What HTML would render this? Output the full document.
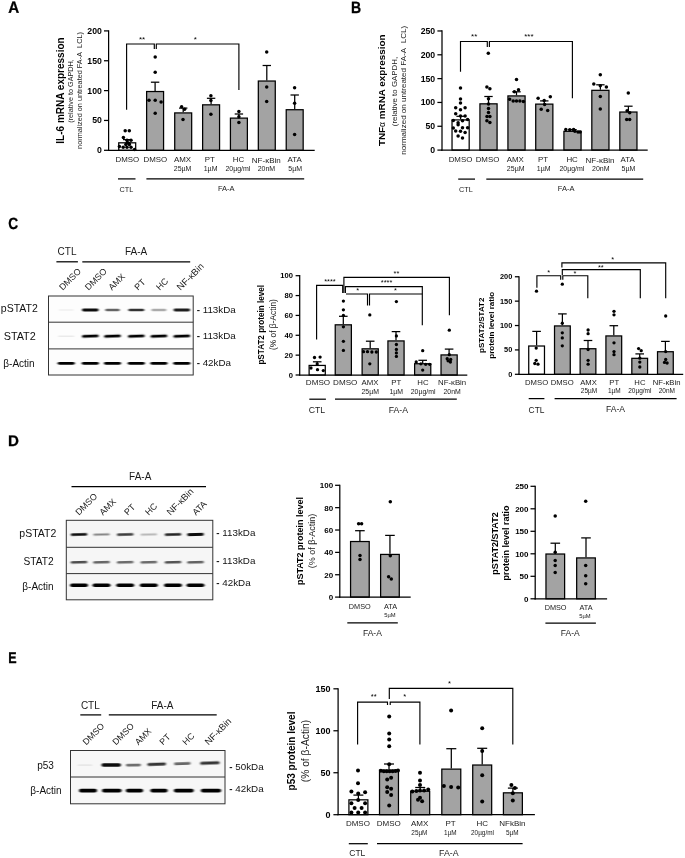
<!DOCTYPE html>
<html><head><meta charset="utf-8"><title>Figure</title>
<style>
html,body{margin:0;padding:0;background:#fff;}
body{width:685px;height:858px;overflow:hidden;font-family:"Liberation Sans",sans-serif;}
svg{display:block;will-change:transform;}
svg text{font-family:"Liberation Sans",sans-serif;}
</style></head><body>
<svg width="685" height="858" viewBox="0 0 685 858">
<defs><filter id="bl" x="-20%" y="-100%" width="140%" height="300%"><feGaussianBlur stdDeviation="0.9 0.65"/></filter></defs>
<rect x="0" y="0" width="685" height="858" fill="#fff"/>
<text transform="translate(8.20 12.80) rotate(0.03) scale(0.93 1)" x="0" y="0" font-size="16.3" font-weight="bold" fill="#000" stroke="#000" stroke-width="0.3">A</text>
<text transform="translate(351.10 12.80) rotate(0.03) scale(0.86 1)" x="0" y="0" font-size="16.3" font-weight="bold" fill="#000" stroke="#000" stroke-width="0.3">B</text>
<text transform="translate(8.20 229.40) rotate(0.03) scale(0.84 1)" x="0" y="0" font-size="16.3" font-weight="bold" fill="#000" stroke="#000" stroke-width="0.3">C</text>
<text transform="translate(8.00 446.00) rotate(0.03) scale(0.98 1)" x="0" y="0" font-size="15.4" font-weight="bold" fill="#000" stroke="#000" stroke-width="0.3">D</text>
<text transform="translate(8.20 663.00) rotate(0.03) scale(0.81 1)" x="0" y="0" font-size="15.5" font-weight="bold" fill="#000" stroke="#000" stroke-width="0.3">E</text>
<line x1="127.20" y1="142.20" x2="127.20" y2="139.60" stroke="#000" stroke-width="1.25" stroke-linecap="butt"/>
<line x1="123.00" y1="139.60" x2="131.40" y2="139.60" stroke="#000" stroke-width="1.25" stroke-linecap="butt"/>
<rect x="118.73" y="142.82" width="16.95" height="7.48" fill="#fff" stroke="#000" stroke-width="1.25" />
<line x1="155.10" y1="90.90" x2="155.10" y2="82.20" stroke="#000" stroke-width="1.25" stroke-linecap="butt"/>
<line x1="150.90" y1="82.20" x2="159.30" y2="82.20" stroke="#000" stroke-width="1.25" stroke-linecap="butt"/>
<rect x="146.62" y="91.53" width="16.95" height="58.78" fill="#a3a3a3" stroke="#000" stroke-width="1.25" />
<line x1="183.20" y1="112.30" x2="183.20" y2="108.10" stroke="#000" stroke-width="1.25" stroke-linecap="butt"/>
<line x1="179.00" y1="108.10" x2="187.40" y2="108.10" stroke="#000" stroke-width="1.25" stroke-linecap="butt"/>
<rect x="174.72" y="112.92" width="16.95" height="37.38" fill="#a3a3a3" stroke="#000" stroke-width="1.25" />
<line x1="211.10" y1="104.20" x2="211.10" y2="98.30" stroke="#000" stroke-width="1.25" stroke-linecap="butt"/>
<line x1="206.90" y1="98.30" x2="215.30" y2="98.30" stroke="#000" stroke-width="1.25" stroke-linecap="butt"/>
<rect x="202.62" y="104.83" width="16.95" height="45.48" fill="#a3a3a3" stroke="#000" stroke-width="1.25" />
<line x1="238.90" y1="117.50" x2="238.90" y2="114.00" stroke="#000" stroke-width="1.25" stroke-linecap="butt"/>
<line x1="234.70" y1="114.00" x2="243.10" y2="114.00" stroke="#000" stroke-width="1.25" stroke-linecap="butt"/>
<rect x="230.43" y="118.12" width="16.95" height="32.18" fill="#a3a3a3" stroke="#000" stroke-width="1.25" />
<line x1="266.80" y1="80.40" x2="266.80" y2="65.50" stroke="#000" stroke-width="1.25" stroke-linecap="butt"/>
<line x1="262.60" y1="65.50" x2="271.00" y2="65.50" stroke="#000" stroke-width="1.25" stroke-linecap="butt"/>
<rect x="258.32" y="81.03" width="16.95" height="69.28" fill="#a3a3a3" stroke="#000" stroke-width="1.25" />
<line x1="294.70" y1="109.10" x2="294.70" y2="95.00" stroke="#000" stroke-width="1.25" stroke-linecap="butt"/>
<line x1="290.50" y1="95.00" x2="298.90" y2="95.00" stroke="#000" stroke-width="1.25" stroke-linecap="butt"/>
<rect x="286.22" y="109.72" width="16.95" height="40.58" fill="#a3a3a3" stroke="#000" stroke-width="1.25" />
<line x1="108.60" y1="30.28" x2="108.60" y2="150.93" stroke="#000" stroke-width="1.25" stroke-linecap="butt"/>
<line x1="107.97" y1="150.30" x2="314.70" y2="150.30" stroke="#000" stroke-width="1.25" stroke-linecap="butt"/>
<line x1="104.00" y1="150.30" x2="108.60" y2="150.30" stroke="#000" stroke-width="1.25" stroke-linecap="butt"/>
<text x="101.80" y="153.30" font-size="8.7" text-anchor="end" font-weight="bold" fill="#000" >0</text>
<line x1="104.00" y1="120.45" x2="108.60" y2="120.45" stroke="#000" stroke-width="1.25" stroke-linecap="butt"/>
<text x="101.80" y="123.45" font-size="8.7" text-anchor="end" font-weight="bold" fill="#000" >50</text>
<line x1="104.00" y1="90.60" x2="108.60" y2="90.60" stroke="#000" stroke-width="1.25" stroke-linecap="butt"/>
<text x="101.80" y="93.60" font-size="8.7" text-anchor="end" font-weight="bold" fill="#000" >100</text>
<line x1="104.00" y1="60.75" x2="108.60" y2="60.75" stroke="#000" stroke-width="1.25" stroke-linecap="butt"/>
<text x="101.80" y="63.75" font-size="8.7" text-anchor="end" font-weight="bold" fill="#000" >150</text>
<line x1="104.00" y1="30.90" x2="108.60" y2="30.90" stroke="#000" stroke-width="1.25" stroke-linecap="butt"/>
<text x="101.80" y="33.90" font-size="8.7" text-anchor="end" font-weight="bold" fill="#000" >200</text>
<circle cx="125.20" cy="130.70" r="1.75" fill="#000"/>
<circle cx="129.30" cy="130.70" r="1.75" fill="#000"/>
<circle cx="123.40" cy="137.50" r="1.75" fill="#000"/>
<circle cx="127.00" cy="140.20" r="1.75" fill="#000"/>
<circle cx="131.00" cy="140.20" r="1.75" fill="#000"/>
<circle cx="127.40" cy="142.60" r="1.75" fill="#000"/>
<circle cx="129.00" cy="143.60" r="1.75" fill="#000"/>
<circle cx="125.80" cy="144.60" r="1.75" fill="#000"/>
<circle cx="129.30" cy="144.60" r="1.75" fill="#000"/>
<circle cx="119.40" cy="146.60" r="1.75" fill="#000"/>
<circle cx="123.20" cy="147.20" r="1.75" fill="#000"/>
<circle cx="127.00" cy="147.20" r="1.75" fill="#000"/>
<circle cx="131.00" cy="147.20" r="1.75" fill="#000"/>
<circle cx="134.60" cy="149.50" r="1.75" fill="#000"/>
<circle cx="155.20" cy="57.10" r="1.75" fill="#000"/>
<circle cx="155.20" cy="72.20" r="1.75" fill="#000"/>
<circle cx="149.00" cy="100.20" r="1.75" fill="#000"/>
<circle cx="155.20" cy="100.20" r="1.75" fill="#000"/>
<circle cx="161.10" cy="102.00" r="1.75" fill="#000"/>
<circle cx="155.20" cy="113.20" r="1.75" fill="#000"/>
<circle cx="181.60" cy="106.70" r="1.75" fill="#000"/>
<circle cx="184.60" cy="109.30" r="1.75" fill="#000"/>
<circle cx="183.00" cy="119.50" r="1.75" fill="#000"/>
<circle cx="210.90" cy="95.80" r="1.75" fill="#000"/>
<circle cx="210.90" cy="100.40" r="1.75" fill="#000"/>
<circle cx="210.90" cy="114.20" r="1.75" fill="#000"/>
<circle cx="238.90" cy="111.40" r="1.75" fill="#000"/>
<circle cx="238.90" cy="116.70" r="1.75" fill="#000"/>
<circle cx="238.90" cy="122.50" r="1.75" fill="#000"/>
<circle cx="266.70" cy="52.00" r="1.75" fill="#000"/>
<circle cx="266.70" cy="87.10" r="1.75" fill="#000"/>
<circle cx="266.70" cy="101.60" r="1.75" fill="#000"/>
<circle cx="294.60" cy="87.80" r="1.75" fill="#000"/>
<circle cx="294.60" cy="103.20" r="1.75" fill="#000"/>
<circle cx="294.60" cy="134.40" r="1.75" fill="#000"/>
<polyline points="126.60,109.80 126.60,44.00 154.30,44.00 154.30,48.90" fill="none" stroke="#000" stroke-width="1.15" stroke-linejoin="miter"/>
<polyline points="156.30,48.90 156.30,44.00 238.90,44.00 238.90,90.00" fill="none" stroke="#000" stroke-width="1.15" stroke-linejoin="miter"/>
<text x="142.00" y="41.80" font-size="8" text-anchor="middle" fill="#000" >**</text>
<text x="195.30" y="41.80" font-size="8" text-anchor="middle" fill="#000" >*</text>
<text x="63.50" y="90.50" font-size="10" text-anchor="middle" font-weight="bold" transform="rotate(-90 63.50 90.50)" fill="#000" >IL-6 mRNA expression</text>
<text x="72.70" y="91.00" font-size="7.25" text-anchor="middle" transform="rotate(-90 72.70 91.00)" fill="#1a1a1a" >(relative to GAPDH,</text>
<text x="82.00" y="90.50" font-size="7.3" text-anchor="middle" transform="rotate(-90 82.00 90.50)" fill="#1a1a1a" >normalized on untreated FA-A&#160; LCL)</text>
<text x="127.30" y="162.00" font-size="7.9" text-anchor="middle" fill="#1a1a1a" >DMSO</text>
<text x="155.30" y="162.00" font-size="7.9" text-anchor="middle" fill="#1a1a1a" >DMSO</text>
<text x="182.50" y="162.00" font-size="7.9" text-anchor="middle" fill="#1a1a1a" >AMX</text>
<text x="209.90" y="162.00" font-size="7.9" text-anchor="middle" fill="#1a1a1a" >PT</text>
<text x="238.40" y="162.00" font-size="7.9" text-anchor="middle" fill="#1a1a1a" >HC</text>
<text x="266.30" y="162.60" font-size="8.0" text-anchor="middle" fill="#1a1a1a" >NF-κBin</text>
<text x="294.60" y="162.00" font-size="7.9" text-anchor="middle" fill="#1a1a1a" >ATA</text>
<text x="182.60" y="171.40" font-size="7.0" text-anchor="middle" fill="#1a1a1a" >25µM</text>
<text x="210.60" y="171.40" font-size="7.0" text-anchor="middle" fill="#1a1a1a" >1µM</text>
<text x="237.90" y="171.40" font-size="7.0" text-anchor="middle" fill="#1a1a1a" >20µg/ml</text>
<text x="266.40" y="171.40" font-size="7.0" text-anchor="middle" fill="#1a1a1a" >20nM</text>
<text x="295.20" y="171.40" font-size="7.0" text-anchor="middle" fill="#1a1a1a" >5µM</text>
<line x1="118.00" y1="178.90" x2="135.50" y2="178.90" stroke="#000" stroke-width="1.25" stroke-linecap="butt"/>
<line x1="146.40" y1="178.90" x2="304.20" y2="178.90" stroke="#000" stroke-width="1.25" stroke-linecap="butt"/>
<text x="126.40" y="191.60" font-size="7.3" text-anchor="middle" fill="#1a1a1a" >CTL</text>
<text x="226.30" y="191.40" font-size="7.5" text-anchor="middle" fill="#1a1a1a" >FA-A</text>
<line x1="460.60" y1="119.30" x2="460.60" y2="116.30" stroke="#000" stroke-width="1.25" stroke-linecap="butt"/>
<line x1="456.40" y1="116.30" x2="464.80" y2="116.30" stroke="#000" stroke-width="1.25" stroke-linecap="butt"/>
<rect x="452.03" y="119.92" width="17.15" height="30.17" fill="#fff" stroke="#000" stroke-width="1.25" />
<line x1="488.50" y1="103.20" x2="488.50" y2="96.50" stroke="#000" stroke-width="1.25" stroke-linecap="butt"/>
<line x1="484.30" y1="96.50" x2="492.70" y2="96.50" stroke="#000" stroke-width="1.25" stroke-linecap="butt"/>
<rect x="479.93" y="103.83" width="17.15" height="46.27" fill="#a3a3a3" stroke="#000" stroke-width="1.25" />
<line x1="516.50" y1="95.30" x2="516.50" y2="91.80" stroke="#000" stroke-width="1.25" stroke-linecap="butt"/>
<line x1="512.30" y1="91.80" x2="520.70" y2="91.80" stroke="#000" stroke-width="1.25" stroke-linecap="butt"/>
<rect x="507.93" y="95.92" width="17.15" height="54.17" fill="#a3a3a3" stroke="#000" stroke-width="1.25" />
<line x1="544.30" y1="103.50" x2="544.30" y2="100.90" stroke="#000" stroke-width="1.25" stroke-linecap="butt"/>
<line x1="540.10" y1="100.90" x2="548.50" y2="100.90" stroke="#000" stroke-width="1.25" stroke-linecap="butt"/>
<rect x="535.72" y="104.12" width="17.15" height="45.97" fill="#a3a3a3" stroke="#000" stroke-width="1.25" />
<line x1="572.50" y1="130.70" x2="572.50" y2="129.60" stroke="#000" stroke-width="1.25" stroke-linecap="butt"/>
<line x1="568.30" y1="129.60" x2="576.70" y2="129.60" stroke="#000" stroke-width="1.25" stroke-linecap="butt"/>
<rect x="563.92" y="131.32" width="17.15" height="18.78" fill="#a3a3a3" stroke="#000" stroke-width="1.25" />
<line x1="600.40" y1="89.70" x2="600.40" y2="84.80" stroke="#000" stroke-width="1.25" stroke-linecap="butt"/>
<line x1="596.20" y1="84.80" x2="604.60" y2="84.80" stroke="#000" stroke-width="1.25" stroke-linecap="butt"/>
<rect x="591.82" y="90.33" width="17.15" height="59.77" fill="#a3a3a3" stroke="#000" stroke-width="1.25" />
<line x1="628.40" y1="111.40" x2="628.40" y2="106.20" stroke="#000" stroke-width="1.25" stroke-linecap="butt"/>
<line x1="624.20" y1="106.20" x2="632.60" y2="106.20" stroke="#000" stroke-width="1.25" stroke-linecap="butt"/>
<rect x="619.82" y="112.03" width="17.15" height="38.07" fill="#a3a3a3" stroke="#000" stroke-width="1.25" />
<line x1="442.00" y1="30.35" x2="442.00" y2="150.72" stroke="#000" stroke-width="1.25" stroke-linecap="butt"/>
<line x1="441.38" y1="150.10" x2="647.70" y2="150.10" stroke="#000" stroke-width="1.25" stroke-linecap="butt"/>
<line x1="437.40" y1="150.10" x2="442.00" y2="150.10" stroke="#000" stroke-width="1.25" stroke-linecap="butt"/>
<text x="435.20" y="153.10" font-size="8.7" text-anchor="end" font-weight="bold" fill="#000" >0</text>
<line x1="437.40" y1="126.27" x2="442.00" y2="126.27" stroke="#000" stroke-width="1.25" stroke-linecap="butt"/>
<text x="435.20" y="129.27" font-size="8.7" text-anchor="end" font-weight="bold" fill="#000" >50</text>
<line x1="437.40" y1="102.45" x2="442.00" y2="102.45" stroke="#000" stroke-width="1.25" stroke-linecap="butt"/>
<text x="435.20" y="105.45" font-size="8.7" text-anchor="end" font-weight="bold" fill="#000" >100</text>
<line x1="437.40" y1="78.62" x2="442.00" y2="78.62" stroke="#000" stroke-width="1.25" stroke-linecap="butt"/>
<text x="435.20" y="81.62" font-size="8.7" text-anchor="end" font-weight="bold" fill="#000" >150</text>
<line x1="437.40" y1="54.80" x2="442.00" y2="54.80" stroke="#000" stroke-width="1.25" stroke-linecap="butt"/>
<text x="435.20" y="57.80" font-size="8.7" text-anchor="end" font-weight="bold" fill="#000" >200</text>
<line x1="437.40" y1="30.97" x2="442.00" y2="30.97" stroke="#000" stroke-width="1.25" stroke-linecap="butt"/>
<text x="435.20" y="33.97" font-size="8.7" text-anchor="end" font-weight="bold" fill="#000" >250</text>
<circle cx="460.50" cy="87.90" r="1.75" fill="#000"/>
<circle cx="460.50" cy="99.10" r="1.75" fill="#000"/>
<circle cx="460.50" cy="102.90" r="1.75" fill="#000"/>
<circle cx="455.70" cy="107.80" r="1.75" fill="#000"/>
<circle cx="465.10" cy="107.80" r="1.75" fill="#000"/>
<circle cx="460.50" cy="109.80" r="1.75" fill="#000"/>
<circle cx="455.70" cy="113.70" r="1.75" fill="#000"/>
<circle cx="460.50" cy="116.10" r="1.75" fill="#000"/>
<circle cx="465.10" cy="116.10" r="1.75" fill="#000"/>
<circle cx="453.30" cy="120.50" r="1.75" fill="#000"/>
<circle cx="462.50" cy="120.70" r="1.75" fill="#000"/>
<circle cx="467.60" cy="119.40" r="1.75" fill="#000"/>
<circle cx="458.10" cy="122.70" r="1.75" fill="#000"/>
<circle cx="458.10" cy="124.80" r="1.75" fill="#000"/>
<circle cx="453.30" cy="128.00" r="1.75" fill="#000"/>
<circle cx="462.50" cy="127.70" r="1.75" fill="#000"/>
<circle cx="467.60" cy="127.70" r="1.75" fill="#000"/>
<circle cx="455.70" cy="131.00" r="1.75" fill="#000"/>
<circle cx="460.50" cy="131.20" r="1.75" fill="#000"/>
<circle cx="465.10" cy="132.40" r="1.75" fill="#000"/>
<circle cx="458.10" cy="136.00" r="1.75" fill="#000"/>
<circle cx="462.50" cy="138.10" r="1.75" fill="#000"/>
<circle cx="488.30" cy="53.30" r="1.75" fill="#000"/>
<circle cx="486.90" cy="87.00" r="1.75" fill="#000"/>
<circle cx="489.90" cy="88.80" r="1.75" fill="#000"/>
<circle cx="488.50" cy="98.80" r="1.75" fill="#000"/>
<circle cx="488.50" cy="104.10" r="1.75" fill="#000"/>
<circle cx="488.50" cy="108.50" r="1.75" fill="#000"/>
<circle cx="488.50" cy="112.40" r="1.75" fill="#000"/>
<circle cx="487.00" cy="116.60" r="1.75" fill="#000"/>
<circle cx="489.90" cy="116.60" r="1.75" fill="#000"/>
<circle cx="486.90" cy="120.70" r="1.75" fill="#000"/>
<circle cx="489.90" cy="122.60" r="1.75" fill="#000"/>
<circle cx="516.50" cy="79.50" r="1.75" fill="#000"/>
<circle cx="518.50" cy="89.70" r="1.75" fill="#000"/>
<circle cx="514.40" cy="91.80" r="1.75" fill="#000"/>
<circle cx="509.70" cy="99.20" r="1.75" fill="#000"/>
<circle cx="513.20" cy="100.90" r="1.75" fill="#000"/>
<circle cx="516.50" cy="100.90" r="1.75" fill="#000"/>
<circle cx="519.90" cy="100.90" r="1.75" fill="#000"/>
<circle cx="523.40" cy="101.40" r="1.75" fill="#000"/>
<circle cx="538.10" cy="98.30" r="1.75" fill="#000"/>
<circle cx="550.30" cy="96.70" r="1.75" fill="#000"/>
<circle cx="544.20" cy="100.60" r="1.75" fill="#000"/>
<circle cx="544.60" cy="104.60" r="1.75" fill="#000"/>
<circle cx="541.20" cy="109.30" r="1.75" fill="#000"/>
<circle cx="547.70" cy="110.50" r="1.75" fill="#000"/>
<circle cx="565.80" cy="129.50" r="1.75" fill="#000"/>
<circle cx="569.80" cy="129.80" r="1.75" fill="#000"/>
<circle cx="573.60" cy="129.50" r="1.75" fill="#000"/>
<circle cx="574.90" cy="131.20" r="1.75" fill="#000"/>
<circle cx="578.00" cy="132.10" r="1.75" fill="#000"/>
<circle cx="580.10" cy="132.10" r="1.75" fill="#000"/>
<circle cx="600.30" cy="74.80" r="1.75" fill="#000"/>
<circle cx="593.80" cy="83.90" r="1.75" fill="#000"/>
<circle cx="606.40" cy="87.10" r="1.75" fill="#000"/>
<circle cx="600.30" cy="85.70" r="1.75" fill="#000"/>
<circle cx="600.30" cy="96.50" r="1.75" fill="#000"/>
<circle cx="600.30" cy="109.00" r="1.75" fill="#000"/>
<circle cx="628.30" cy="93.00" r="1.75" fill="#000"/>
<circle cx="627.10" cy="110.70" r="1.75" fill="#000"/>
<circle cx="629.70" cy="112.80" r="1.75" fill="#000"/>
<circle cx="626.70" cy="119.50" r="1.75" fill="#000"/>
<circle cx="629.70" cy="119.50" r="1.75" fill="#000"/>
<polyline points="460.50,71.70 460.50,41.50 487.30,41.50 487.30,47.10" fill="none" stroke="#000" stroke-width="1.15" stroke-linejoin="miter"/>
<polyline points="489.40,47.10 489.40,41.50 572.40,41.50 572.40,98.30" fill="none" stroke="#000" stroke-width="1.15" stroke-linejoin="miter"/>
<text x="474.20" y="39.20" font-size="8" text-anchor="middle" fill="#000" >**</text>
<text x="528.90" y="39.20" font-size="8" text-anchor="middle" fill="#000" >***</text>
<text x="385.50" y="90.30" font-size="9.9" text-anchor="middle" font-weight="bold" transform="rotate(-90 385.50 90.30)" fill="#000" >TNF<tspan font-size="8.5" font-weight="normal">α</tspan> mRNA expression</text>
<text x="396.90" y="91.50" font-size="7.9" text-anchor="middle" transform="rotate(-90 396.90 91.50)" fill="#1a1a1a" >(relative to GAPDH,</text>
<text x="406.50" y="90.30" font-size="8.05" text-anchor="middle" transform="rotate(-90 406.50 90.30)" fill="#1a1a1a" >normalized on untreated FA-A&#160; LCL)</text>
<text x="460.50" y="162.00" font-size="7.9" text-anchor="middle" fill="#1a1a1a" >DMSO</text>
<text x="487.50" y="162.00" font-size="7.9" text-anchor="middle" fill="#1a1a1a" >DMSO</text>
<text x="515.30" y="162.00" font-size="7.9" text-anchor="middle" fill="#1a1a1a" >AMX</text>
<text x="543.00" y="162.00" font-size="7.9" text-anchor="middle" fill="#1a1a1a" >PT</text>
<text x="572.10" y="162.00" font-size="7.9" text-anchor="middle" fill="#1a1a1a" >HC</text>
<text x="600.00" y="162.60" font-size="8.0" text-anchor="middle" fill="#1a1a1a" >NF-κBin</text>
<text x="627.60" y="162.00" font-size="7.9" text-anchor="middle" fill="#1a1a1a" >ATA</text>
<text x="515.70" y="171.40" font-size="7.0" text-anchor="middle" fill="#1a1a1a" >25µM</text>
<text x="543.70" y="171.40" font-size="7.0" text-anchor="middle" fill="#1a1a1a" >1µM</text>
<text x="571.90" y="171.40" font-size="7.0" text-anchor="middle" fill="#1a1a1a" >20µg/ml</text>
<text x="600.80" y="171.40" font-size="7.0" text-anchor="middle" fill="#1a1a1a" >20nM</text>
<text x="628.50" y="171.40" font-size="7.0" text-anchor="middle" fill="#1a1a1a" >5µM</text>
<line x1="458.20" y1="179.10" x2="475.00" y2="179.10" stroke="#000" stroke-width="1.25" stroke-linecap="butt"/>
<line x1="486.30" y1="179.10" x2="643.20" y2="179.10" stroke="#000" stroke-width="1.25" stroke-linecap="butt"/>
<text x="466.00" y="191.50" font-size="7.3" text-anchor="middle" fill="#1a1a1a" >CTL</text>
<text x="566.10" y="191.40" font-size="7.5" text-anchor="middle" fill="#1a1a1a" >FA-A</text>
<line x1="317.20" y1="364.80" x2="317.20" y2="361.80" stroke="#000" stroke-width="1.25" stroke-linecap="butt"/>
<line x1="312.90" y1="361.80" x2="321.50" y2="361.80" stroke="#000" stroke-width="1.25" stroke-linecap="butt"/>
<rect x="309.12" y="365.43" width="16.15" height="9.57" fill="#fff" stroke="#000" stroke-width="1.25" />
<line x1="343.30" y1="324.20" x2="343.30" y2="316.30" stroke="#000" stroke-width="1.25" stroke-linecap="butt"/>
<line x1="339.00" y1="316.30" x2="347.60" y2="316.30" stroke="#000" stroke-width="1.25" stroke-linecap="butt"/>
<rect x="335.23" y="324.82" width="16.15" height="50.18" fill="#a3a3a3" stroke="#000" stroke-width="1.25" />
<line x1="370.20" y1="348.20" x2="370.20" y2="341.20" stroke="#000" stroke-width="1.25" stroke-linecap="butt"/>
<line x1="365.90" y1="341.20" x2="374.50" y2="341.20" stroke="#000" stroke-width="1.25" stroke-linecap="butt"/>
<rect x="362.12" y="348.82" width="16.15" height="26.18" fill="#a3a3a3" stroke="#000" stroke-width="1.25" />
<line x1="396.00" y1="340.30" x2="396.00" y2="331.60" stroke="#000" stroke-width="1.25" stroke-linecap="butt"/>
<line x1="391.70" y1="331.60" x2="400.30" y2="331.60" stroke="#000" stroke-width="1.25" stroke-linecap="butt"/>
<rect x="387.93" y="340.93" width="16.15" height="34.07" fill="#a3a3a3" stroke="#000" stroke-width="1.25" />
<line x1="422.70" y1="363.10" x2="422.70" y2="360.30" stroke="#000" stroke-width="1.25" stroke-linecap="butt"/>
<line x1="418.40" y1="360.30" x2="427.00" y2="360.30" stroke="#000" stroke-width="1.25" stroke-linecap="butt"/>
<rect x="414.62" y="363.73" width="16.15" height="11.27" fill="#a3a3a3" stroke="#000" stroke-width="1.25" />
<line x1="449.10" y1="354.30" x2="449.10" y2="349.10" stroke="#000" stroke-width="1.25" stroke-linecap="butt"/>
<line x1="444.80" y1="349.10" x2="453.40" y2="349.10" stroke="#000" stroke-width="1.25" stroke-linecap="butt"/>
<rect x="441.03" y="354.93" width="16.15" height="20.07" fill="#a3a3a3" stroke="#000" stroke-width="1.25" />
<line x1="299.70" y1="275.07" x2="299.70" y2="375.62" stroke="#000" stroke-width="1.25" stroke-linecap="butt"/>
<line x1="299.07" y1="375.00" x2="467.30" y2="375.00" stroke="#000" stroke-width="1.25" stroke-linecap="butt"/>
<line x1="295.60" y1="375.00" x2="299.70" y2="375.00" stroke="#000" stroke-width="1.25" stroke-linecap="butt"/>
<text x="293.00" y="377.50" font-size="7.6" text-anchor="end" font-weight="bold" fill="#000" >0</text>
<line x1="295.60" y1="355.14" x2="299.70" y2="355.14" stroke="#000" stroke-width="1.25" stroke-linecap="butt"/>
<text x="293.00" y="357.64" font-size="7.6" text-anchor="end" font-weight="bold" fill="#000" >20</text>
<line x1="295.60" y1="335.28" x2="299.70" y2="335.28" stroke="#000" stroke-width="1.25" stroke-linecap="butt"/>
<text x="293.00" y="337.78" font-size="7.6" text-anchor="end" font-weight="bold" fill="#000" >40</text>
<line x1="295.60" y1="315.42" x2="299.70" y2="315.42" stroke="#000" stroke-width="1.25" stroke-linecap="butt"/>
<text x="293.00" y="317.92" font-size="7.6" text-anchor="end" font-weight="bold" fill="#000" >60</text>
<line x1="295.60" y1="295.56" x2="299.70" y2="295.56" stroke="#000" stroke-width="1.25" stroke-linecap="butt"/>
<text x="293.00" y="298.06" font-size="7.6" text-anchor="end" font-weight="bold" fill="#000" >80</text>
<line x1="295.60" y1="275.70" x2="299.70" y2="275.70" stroke="#000" stroke-width="1.25" stroke-linecap="butt"/>
<text x="293.00" y="278.20" font-size="7.6" text-anchor="end" font-weight="bold" fill="#000" >100</text>
<circle cx="314.50" cy="357.50" r="1.65" fill="#000"/>
<circle cx="320.10" cy="357.10" r="1.65" fill="#000"/>
<circle cx="317.20" cy="363.90" r="1.65" fill="#000"/>
<circle cx="311.00" cy="368.00" r="1.65" fill="#000"/>
<circle cx="317.50" cy="369.70" r="1.65" fill="#000"/>
<circle cx="323.30" cy="370.60" r="1.65" fill="#000"/>
<circle cx="343.40" cy="301.10" r="1.65" fill="#000"/>
<circle cx="343.40" cy="309.80" r="1.65" fill="#000"/>
<circle cx="343.40" cy="315.40" r="1.65" fill="#000"/>
<circle cx="343.40" cy="326.80" r="1.65" fill="#000"/>
<circle cx="343.40" cy="341.30" r="1.65" fill="#000"/>
<circle cx="343.40" cy="350.40" r="1.65" fill="#000"/>
<circle cx="369.80" cy="314.90" r="1.65" fill="#000"/>
<circle cx="363.50" cy="351.70" r="1.65" fill="#000"/>
<circle cx="367.50" cy="351.70" r="1.65" fill="#000"/>
<circle cx="371.90" cy="352.00" r="1.65" fill="#000"/>
<circle cx="376.30" cy="352.00" r="1.65" fill="#000"/>
<circle cx="369.80" cy="363.80" r="1.65" fill="#000"/>
<circle cx="396.40" cy="301.60" r="1.65" fill="#000"/>
<circle cx="396.40" cy="335.90" r="1.65" fill="#000"/>
<circle cx="396.40" cy="344.50" r="1.65" fill="#000"/>
<circle cx="396.40" cy="349.40" r="1.65" fill="#000"/>
<circle cx="396.40" cy="352.90" r="1.65" fill="#000"/>
<circle cx="396.40" cy="356.40" r="1.65" fill="#000"/>
<circle cx="422.70" cy="350.70" r="1.65" fill="#000"/>
<circle cx="416.20" cy="362.00" r="1.65" fill="#000"/>
<circle cx="420.90" cy="363.80" r="1.65" fill="#000"/>
<circle cx="425.70" cy="364.30" r="1.65" fill="#000"/>
<circle cx="429.70" cy="364.30" r="1.65" fill="#000"/>
<circle cx="422.70" cy="370.10" r="1.65" fill="#000"/>
<circle cx="449.30" cy="330.20" r="1.65" fill="#000"/>
<circle cx="449.30" cy="354.70" r="1.65" fill="#000"/>
<circle cx="447.20" cy="358.70" r="1.65" fill="#000"/>
<circle cx="450.70" cy="359.40" r="1.65" fill="#000"/>
<circle cx="448.10" cy="360.80" r="1.65" fill="#000"/>
<circle cx="450.40" cy="362.00" r="1.65" fill="#000"/>
<polyline points="316.60,339.60 316.60,285.40 342.70,285.40 342.70,293.00" fill="none" stroke="#000" stroke-width="1.15" stroke-linejoin="miter"/>
<polyline points="343.90,293.00 343.90,277.40 449.40,277.40 449.40,315.30" fill="none" stroke="#000" stroke-width="1.15" stroke-linejoin="miter"/>
<polyline points="345.40,293.00 345.40,286.60 422.30,286.60 422.30,325.30" fill="none" stroke="#000" stroke-width="1.15" stroke-linejoin="miter"/>
<polyline points="346.00,294.00 367.50,294.00 367.50,305.40" fill="none" stroke="#000" stroke-width="1.15" stroke-linejoin="miter"/>
<polyline points="369.50,305.40 369.50,294.00 422.30,294.00" fill="none" stroke="#000" stroke-width="1.15" stroke-linejoin="miter"/>
<text x="330.00" y="284.20" font-size="7.4" text-anchor="middle" fill="#000" >****</text>
<text x="396.40" y="276.10" font-size="7.4" text-anchor="middle" fill="#000" >**</text>
<text x="386.60" y="285.40" font-size="7.4" text-anchor="middle" fill="#000" >****</text>
<text x="357.60" y="293.40" font-size="7.4" text-anchor="middle" fill="#000" >*</text>
<text x="395.50" y="293.40" font-size="7.4" text-anchor="middle" fill="#000" >*</text>
<text x="264.00" y="324.80" font-size="8.15" text-anchor="middle" font-weight="bold" transform="rotate(-90 264.00 324.80)" fill="#000" >pSTAT2 protein level</text>
<text x="275.60" y="324.60" font-size="8.4" text-anchor="middle" transform="rotate(-90 275.60 324.60)" fill="#1a1a1a" >(% of β-Actin)</text>
<text x="318.00" y="384.70" font-size="8.1" text-anchor="middle" fill="#1a1a1a" >DMSO</text>
<text x="345.20" y="384.70" font-size="8.1" text-anchor="middle" fill="#1a1a1a" >DMSO</text>
<text x="370.00" y="384.70" font-size="7.8" text-anchor="middle" fill="#1a1a1a" >AMX</text>
<text x="396.30" y="384.70" font-size="7.8" text-anchor="middle" fill="#1a1a1a" >PT</text>
<text x="423.00" y="384.70" font-size="7.8" text-anchor="middle" fill="#1a1a1a" >HC</text>
<text x="452.10" y="384.70" font-size="7.8" text-anchor="middle" fill="#1a1a1a" >NF-κBin</text>
<text x="370.20" y="393.90" font-size="6.9" text-anchor="middle" fill="#1a1a1a" >25µM</text>
<text x="396.30" y="393.90" font-size="6.9" text-anchor="middle" fill="#1a1a1a" >1µM</text>
<text x="423.10" y="393.90" font-size="6.9" text-anchor="middle" fill="#1a1a1a" >20µg/ml</text>
<text x="452.10" y="393.90" font-size="6.9" text-anchor="middle" fill="#1a1a1a" >20nM</text>
<line x1="309.30" y1="399.20" x2="325.90" y2="399.20" stroke="#000" stroke-width="1.25" stroke-linecap="butt"/>
<line x1="335.00" y1="399.20" x2="456.80" y2="399.20" stroke="#000" stroke-width="1.25" stroke-linecap="butt"/>
<text x="317.00" y="412.60" font-size="8.7" text-anchor="middle" fill="#1a1a1a" >CTL</text>
<text x="398.30" y="412.60" font-size="8.7" text-anchor="middle" fill="#1a1a1a" >FA-A</text>
<line x1="536.60" y1="345.40" x2="536.60" y2="331.40" stroke="#000" stroke-width="1.25" stroke-linecap="butt"/>
<line x1="532.30" y1="331.40" x2="540.90" y2="331.40" stroke="#000" stroke-width="1.25" stroke-linecap="butt"/>
<rect x="528.73" y="346.02" width="15.75" height="28.28" fill="#fff" stroke="#000" stroke-width="1.25" />
<line x1="562.40" y1="325.30" x2="562.40" y2="313.90" stroke="#000" stroke-width="1.25" stroke-linecap="butt"/>
<line x1="558.10" y1="313.90" x2="566.70" y2="313.90" stroke="#000" stroke-width="1.25" stroke-linecap="butt"/>
<rect x="554.52" y="325.93" width="15.75" height="48.38" fill="#a3a3a3" stroke="#000" stroke-width="1.25" />
<line x1="588.00" y1="348.10" x2="588.00" y2="340.50" stroke="#000" stroke-width="1.25" stroke-linecap="butt"/>
<line x1="583.70" y1="340.50" x2="592.30" y2="340.50" stroke="#000" stroke-width="1.25" stroke-linecap="butt"/>
<rect x="580.12" y="348.73" width="15.75" height="25.57" fill="#a3a3a3" stroke="#000" stroke-width="1.25" />
<line x1="613.80" y1="335.30" x2="613.80" y2="325.70" stroke="#000" stroke-width="1.25" stroke-linecap="butt"/>
<line x1="609.50" y1="325.70" x2="618.10" y2="325.70" stroke="#000" stroke-width="1.25" stroke-linecap="butt"/>
<rect x="605.92" y="335.93" width="15.75" height="38.38" fill="#a3a3a3" stroke="#000" stroke-width="1.25" />
<line x1="639.70" y1="357.70" x2="639.70" y2="353.90" stroke="#000" stroke-width="1.25" stroke-linecap="butt"/>
<line x1="635.40" y1="353.90" x2="644.00" y2="353.90" stroke="#000" stroke-width="1.25" stroke-linecap="butt"/>
<rect x="631.83" y="358.32" width="15.75" height="15.98" fill="#a3a3a3" stroke="#000" stroke-width="1.25" />
<line x1="665.40" y1="351.10" x2="665.40" y2="341.40" stroke="#000" stroke-width="1.25" stroke-linecap="butt"/>
<line x1="661.10" y1="341.40" x2="669.70" y2="341.40" stroke="#000" stroke-width="1.25" stroke-linecap="butt"/>
<rect x="657.52" y="351.73" width="15.75" height="22.57" fill="#a3a3a3" stroke="#000" stroke-width="1.25" />
<line x1="519.00" y1="276.13" x2="519.00" y2="374.93" stroke="#000" stroke-width="1.25" stroke-linecap="butt"/>
<line x1="518.38" y1="374.30" x2="683.20" y2="374.30" stroke="#000" stroke-width="1.25" stroke-linecap="butt"/>
<line x1="514.90" y1="374.30" x2="519.00" y2="374.30" stroke="#000" stroke-width="1.25" stroke-linecap="butt"/>
<text x="512.30" y="376.80" font-size="7.4" text-anchor="end" font-weight="bold" fill="#000" >0</text>
<line x1="514.90" y1="349.92" x2="519.00" y2="349.92" stroke="#000" stroke-width="1.25" stroke-linecap="butt"/>
<text x="512.30" y="352.42" font-size="7.4" text-anchor="end" font-weight="bold" fill="#000" >50</text>
<line x1="514.90" y1="325.53" x2="519.00" y2="325.53" stroke="#000" stroke-width="1.25" stroke-linecap="butt"/>
<text x="512.30" y="328.03" font-size="7.4" text-anchor="end" font-weight="bold" fill="#000" >100</text>
<line x1="514.90" y1="301.14" x2="519.00" y2="301.14" stroke="#000" stroke-width="1.25" stroke-linecap="butt"/>
<text x="512.30" y="303.64" font-size="7.4" text-anchor="end" font-weight="bold" fill="#000" >150</text>
<line x1="514.90" y1="276.76" x2="519.00" y2="276.76" stroke="#000" stroke-width="1.25" stroke-linecap="butt"/>
<text x="512.30" y="279.26" font-size="7.4" text-anchor="end" font-weight="bold" fill="#000" >200</text>
<circle cx="536.50" cy="291.20" r="1.65" fill="#000"/>
<circle cx="536.20" cy="348.10" r="1.65" fill="#000"/>
<circle cx="536.20" cy="360.30" r="1.65" fill="#000"/>
<circle cx="534.80" cy="363.50" r="1.65" fill="#000"/>
<circle cx="538.00" cy="364.20" r="1.65" fill="#000"/>
<circle cx="562.30" cy="284.20" r="1.65" fill="#000"/>
<circle cx="562.30" cy="323.20" r="1.65" fill="#000"/>
<circle cx="562.30" cy="332.80" r="1.65" fill="#000"/>
<circle cx="562.30" cy="337.90" r="1.65" fill="#000"/>
<circle cx="562.30" cy="345.80" r="1.65" fill="#000"/>
<circle cx="588.10" cy="330.00" r="1.65" fill="#000"/>
<circle cx="588.10" cy="333.70" r="1.65" fill="#000"/>
<circle cx="588.10" cy="349.50" r="1.65" fill="#000"/>
<circle cx="588.10" cy="360.30" r="1.65" fill="#000"/>
<circle cx="588.10" cy="364.20" r="1.65" fill="#000"/>
<circle cx="614.00" cy="311.30" r="1.65" fill="#000"/>
<circle cx="614.00" cy="314.80" r="1.65" fill="#000"/>
<circle cx="614.00" cy="342.80" r="1.65" fill="#000"/>
<circle cx="614.00" cy="351.60" r="1.65" fill="#000"/>
<circle cx="614.00" cy="354.70" r="1.65" fill="#000"/>
<circle cx="638.60" cy="348.60" r="1.65" fill="#000"/>
<circle cx="641.20" cy="350.70" r="1.65" fill="#000"/>
<circle cx="639.80" cy="358.20" r="1.65" fill="#000"/>
<circle cx="639.80" cy="362.10" r="1.65" fill="#000"/>
<circle cx="639.80" cy="367.00" r="1.65" fill="#000"/>
<circle cx="665.70" cy="316.00" r="1.65" fill="#000"/>
<circle cx="665.70" cy="351.60" r="1.65" fill="#000"/>
<circle cx="665.70" cy="359.50" r="1.65" fill="#000"/>
<circle cx="664.50" cy="362.40" r="1.65" fill="#000"/>
<circle cx="667.10" cy="363.00" r="1.65" fill="#000"/>
<polyline points="536.90,287.70 536.90,275.70 560.70,275.70 560.70,279.80" fill="none" stroke="#000" stroke-width="1.15" stroke-linejoin="miter"/>
<polyline points="561.90,267.50 561.90,262.80 665.70,262.80 665.70,298.20" fill="none" stroke="#000" stroke-width="1.15" stroke-linejoin="miter"/>
<polyline points="562.30,275.00 562.30,269.60 640.30,269.60 640.30,298.20" fill="none" stroke="#000" stroke-width="1.15" stroke-linejoin="miter"/>
<polyline points="562.80,279.80 562.80,275.70 587.80,275.70 587.80,298.20" fill="none" stroke="#000" stroke-width="1.15" stroke-linejoin="miter"/>
<text x="548.80" y="274.80" font-size="7.4" text-anchor="middle" fill="#000" >*</text>
<text x="612.80" y="262.20" font-size="7.4" text-anchor="middle" fill="#000" >*</text>
<text x="600.80" y="269.60" font-size="7.4" text-anchor="middle" fill="#000" >**</text>
<text x="575.00" y="275.60" font-size="7.4" text-anchor="middle" fill="#000" >*</text>
<text x="484.30" y="325.30" font-size="8.0" text-anchor="middle" font-weight="bold" transform="rotate(-90 484.30 325.30)" fill="#000" >pSTAT2/STAT2</text>
<text x="494.20" y="325.30" font-size="8.0" text-anchor="middle" font-weight="bold" transform="rotate(-90 494.20 325.30)" fill="#000" >protein level ratio</text>
<text x="536.60" y="384.70" font-size="7.7" text-anchor="middle" fill="#1a1a1a" >DMSO</text>
<text x="562.20" y="384.70" font-size="7.7" text-anchor="middle" fill="#1a1a1a" >DMSO</text>
<text x="588.50" y="384.70" font-size="7.7" text-anchor="middle" fill="#1a1a1a" >AMX</text>
<text x="614.20" y="384.70" font-size="7.7" text-anchor="middle" fill="#1a1a1a" >PT</text>
<text x="639.90" y="384.70" font-size="7.7" text-anchor="middle" fill="#1a1a1a" >HC</text>
<text x="666.60" y="384.70" font-size="7.7" text-anchor="middle" fill="#1a1a1a" >NF-κBin</text>
<text x="589.00" y="392.80" font-size="6.5" text-anchor="middle" fill="#1a1a1a" >25µM</text>
<text x="614.30" y="392.80" font-size="6.5" text-anchor="middle" fill="#1a1a1a" >1µM</text>
<text x="639.80" y="392.80" font-size="6.5" text-anchor="middle" fill="#1a1a1a" >20µg/ml</text>
<text x="666.80" y="392.80" font-size="6.5" text-anchor="middle" fill="#1a1a1a" >20nM</text>
<line x1="528.70" y1="398.60" x2="544.40" y2="398.60" stroke="#000" stroke-width="1.25" stroke-linecap="butt"/>
<line x1="554.60" y1="398.60" x2="676.60" y2="398.60" stroke="#000" stroke-width="1.25" stroke-linecap="butt"/>
<text x="536.50" y="412.70" font-size="8.4" text-anchor="middle" fill="#1a1a1a" >CTL</text>
<text x="615.50" y="412.30" font-size="8.6" text-anchor="middle" fill="#1a1a1a" >FA-A</text>
<line x1="359.90" y1="540.90" x2="359.90" y2="530.70" stroke="#000" stroke-width="1.25" stroke-linecap="butt"/>
<line x1="355.10" y1="530.70" x2="364.70" y2="530.70" stroke="#000" stroke-width="1.25" stroke-linecap="butt"/>
<rect x="350.57" y="541.52" width="18.65" height="55.58" fill="#a3a3a3" stroke="#000" stroke-width="1.25" />
<line x1="389.95" y1="553.80" x2="389.95" y2="535.40" stroke="#000" stroke-width="1.25" stroke-linecap="butt"/>
<line x1="385.15" y1="535.40" x2="394.75" y2="535.40" stroke="#000" stroke-width="1.25" stroke-linecap="butt"/>
<rect x="380.62" y="554.42" width="18.65" height="42.68" fill="#a3a3a3" stroke="#000" stroke-width="1.25" />
<line x1="339.80" y1="484.68" x2="339.80" y2="597.73" stroke="#000" stroke-width="1.25" stroke-linecap="butt"/>
<line x1="339.18" y1="597.10" x2="410.70" y2="597.10" stroke="#000" stroke-width="1.25" stroke-linecap="butt"/>
<line x1="335.10" y1="597.10" x2="339.80" y2="597.10" stroke="#000" stroke-width="1.25" stroke-linecap="butt"/>
<text x="333.10" y="600.00" font-size="8" text-anchor="end" font-weight="bold" fill="#000" >0</text>
<line x1="335.10" y1="574.74" x2="339.80" y2="574.74" stroke="#000" stroke-width="1.25" stroke-linecap="butt"/>
<text x="333.10" y="577.64" font-size="8" text-anchor="end" font-weight="bold" fill="#000" >20</text>
<line x1="335.10" y1="552.38" x2="339.80" y2="552.38" stroke="#000" stroke-width="1.25" stroke-linecap="butt"/>
<text x="333.10" y="555.28" font-size="8" text-anchor="end" font-weight="bold" fill="#000" >40</text>
<line x1="335.10" y1="530.02" x2="339.80" y2="530.02" stroke="#000" stroke-width="1.25" stroke-linecap="butt"/>
<text x="333.10" y="532.92" font-size="8" text-anchor="end" font-weight="bold" fill="#000" >60</text>
<line x1="335.10" y1="507.66" x2="339.80" y2="507.66" stroke="#000" stroke-width="1.25" stroke-linecap="butt"/>
<text x="333.10" y="510.56" font-size="8" text-anchor="end" font-weight="bold" fill="#000" >80</text>
<line x1="335.10" y1="485.30" x2="339.80" y2="485.30" stroke="#000" stroke-width="1.25" stroke-linecap="butt"/>
<text x="333.10" y="488.20" font-size="8" text-anchor="end" font-weight="bold" fill="#000" >100</text>
<circle cx="358.60" cy="523.70" r="1.75" fill="#000"/>
<circle cx="361.60" cy="523.70" r="1.75" fill="#000"/>
<circle cx="360.00" cy="555.40" r="1.75" fill="#000"/>
<circle cx="360.00" cy="559.50" r="1.75" fill="#000"/>
<circle cx="390.30" cy="501.70" r="1.75" fill="#000"/>
<circle cx="390.30" cy="555.80" r="1.75" fill="#000"/>
<circle cx="388.60" cy="576.70" r="1.75" fill="#000"/>
<circle cx="391.30" cy="578.90" r="1.75" fill="#000"/>
<text x="302.60" y="541.00" font-size="9" text-anchor="middle" font-weight="bold" transform="rotate(-90 302.60 541.00)" fill="#000" >pSTAT2 protein level</text>
<text x="315.30" y="541.00" font-size="9" text-anchor="middle" transform="rotate(-90 315.30 541.00)" fill="#1a1a1a" >(% of β-Actin)</text>
<text x="359.80" y="609.20" font-size="7.3" text-anchor="middle" fill="#1a1a1a" >DMSO</text>
<text x="390.50" y="609.20" font-size="7.3" text-anchor="middle" fill="#1a1a1a" >ATA</text>
<text x="390.00" y="616.90" font-size="5.8" text-anchor="middle" fill="#1a1a1a" >5µM</text>
<line x1="347.30" y1="622.80" x2="397.80" y2="622.80" stroke="#000" stroke-width="1.25" stroke-linecap="butt"/>
<text x="372.40" y="635.50" font-size="8.5" text-anchor="middle" fill="#1a1a1a" >FA-A</text>
<line x1="555.30" y1="553.40" x2="555.30" y2="543.20" stroke="#000" stroke-width="1.25" stroke-linecap="butt"/>
<line x1="550.50" y1="543.20" x2="560.10" y2="543.20" stroke="#000" stroke-width="1.25" stroke-linecap="butt"/>
<rect x="545.97" y="554.02" width="18.65" height="44.77" fill="#a3a3a3" stroke="#000" stroke-width="1.25" />
<line x1="586.00" y1="557.30" x2="586.00" y2="537.90" stroke="#000" stroke-width="1.25" stroke-linecap="butt"/>
<line x1="581.20" y1="537.90" x2="590.80" y2="537.90" stroke="#000" stroke-width="1.25" stroke-linecap="butt"/>
<rect x="576.67" y="557.92" width="18.65" height="40.88" fill="#a3a3a3" stroke="#000" stroke-width="1.25" />
<line x1="535.20" y1="485.67" x2="535.20" y2="599.42" stroke="#000" stroke-width="1.25" stroke-linecap="butt"/>
<line x1="534.58" y1="598.80" x2="607.10" y2="598.80" stroke="#000" stroke-width="1.25" stroke-linecap="butt"/>
<line x1="530.50" y1="598.80" x2="535.20" y2="598.80" stroke="#000" stroke-width="1.25" stroke-linecap="butt"/>
<text x="528.50" y="601.70" font-size="8" text-anchor="end" font-weight="bold" fill="#000" >0</text>
<line x1="530.50" y1="576.30" x2="535.20" y2="576.30" stroke="#000" stroke-width="1.25" stroke-linecap="butt"/>
<text x="528.50" y="579.20" font-size="8" text-anchor="end" font-weight="bold" fill="#000" >50</text>
<line x1="530.50" y1="553.80" x2="535.20" y2="553.80" stroke="#000" stroke-width="1.25" stroke-linecap="butt"/>
<text x="528.50" y="556.70" font-size="8" text-anchor="end" font-weight="bold" fill="#000" >100</text>
<line x1="530.50" y1="531.30" x2="535.20" y2="531.30" stroke="#000" stroke-width="1.25" stroke-linecap="butt"/>
<text x="528.50" y="534.20" font-size="8" text-anchor="end" font-weight="bold" fill="#000" >150</text>
<line x1="530.50" y1="508.80" x2="535.20" y2="508.80" stroke="#000" stroke-width="1.25" stroke-linecap="butt"/>
<text x="528.50" y="511.70" font-size="8" text-anchor="end" font-weight="bold" fill="#000" >200</text>
<line x1="530.50" y1="486.30" x2="535.20" y2="486.30" stroke="#000" stroke-width="1.25" stroke-linecap="butt"/>
<text x="528.50" y="489.20" font-size="8" text-anchor="end" font-weight="bold" fill="#000" >250</text>
<circle cx="555.20" cy="516.00" r="1.75" fill="#000"/>
<circle cx="555.20" cy="552.20" r="1.75" fill="#000"/>
<circle cx="555.20" cy="560.50" r="1.75" fill="#000"/>
<circle cx="555.20" cy="565.40" r="1.75" fill="#000"/>
<circle cx="555.20" cy="572.60" r="1.75" fill="#000"/>
<circle cx="585.70" cy="501.30" r="1.75" fill="#000"/>
<circle cx="585.70" cy="565.60" r="1.75" fill="#000"/>
<circle cx="585.70" cy="575.70" r="1.75" fill="#000"/>
<circle cx="585.70" cy="583.80" r="1.75" fill="#000"/>
<text x="497.70" y="543.50" font-size="9" text-anchor="middle" font-weight="bold" transform="rotate(-90 497.70 543.50)" fill="#000" >pSTAT2/STAT2</text>
<text x="508.60" y="543.00" font-size="9" text-anchor="middle" font-weight="bold" transform="rotate(-90 508.60 543.00)" fill="#000" >protein level ratio</text>
<text x="555.60" y="610.10" font-size="7.3" text-anchor="middle" fill="#1a1a1a" >DMSO</text>
<text x="586.00" y="610.10" font-size="7.3" text-anchor="middle" fill="#1a1a1a" >ATA</text>
<text x="585.00" y="617.70" font-size="5.8" text-anchor="middle" fill="#1a1a1a" >5µM</text>
<line x1="545.40" y1="623.00" x2="595.90" y2="623.00" stroke="#000" stroke-width="1.25" stroke-linecap="butt"/>
<text x="570.20" y="635.60" font-size="8.5" text-anchor="middle" fill="#1a1a1a" >FA-A</text>
<line x1="358.40" y1="799.20" x2="358.40" y2="795.10" stroke="#000" stroke-width="1.25" stroke-linecap="butt"/>
<line x1="353.40" y1="795.10" x2="363.40" y2="795.10" stroke="#000" stroke-width="1.25" stroke-linecap="butt"/>
<rect x="348.92" y="799.83" width="18.95" height="14.88" fill="#fff" stroke="#000" stroke-width="1.25" />
<line x1="389.00" y1="769.50" x2="389.00" y2="764.00" stroke="#000" stroke-width="1.25" stroke-linecap="butt"/>
<line x1="384.00" y1="764.00" x2="394.00" y2="764.00" stroke="#000" stroke-width="1.25" stroke-linecap="butt"/>
<rect x="379.52" y="770.12" width="18.95" height="44.58" fill="#a3a3a3" stroke="#000" stroke-width="1.25" />
<line x1="420.20" y1="790.60" x2="420.20" y2="787.50" stroke="#000" stroke-width="1.25" stroke-linecap="butt"/>
<line x1="415.20" y1="787.50" x2="425.20" y2="787.50" stroke="#000" stroke-width="1.25" stroke-linecap="butt"/>
<rect x="410.72" y="791.23" width="18.95" height="23.48" fill="#a3a3a3" stroke="#000" stroke-width="1.25" />
<line x1="451.30" y1="768.50" x2="451.30" y2="748.70" stroke="#000" stroke-width="1.25" stroke-linecap="butt"/>
<line x1="446.30" y1="748.70" x2="456.30" y2="748.70" stroke="#000" stroke-width="1.25" stroke-linecap="butt"/>
<rect x="441.82" y="769.12" width="18.95" height="45.58" fill="#a3a3a3" stroke="#000" stroke-width="1.25" />
<line x1="482.20" y1="764.40" x2="482.20" y2="748.30" stroke="#000" stroke-width="1.25" stroke-linecap="butt"/>
<line x1="477.20" y1="748.30" x2="487.20" y2="748.30" stroke="#000" stroke-width="1.25" stroke-linecap="butt"/>
<rect x="472.72" y="765.02" width="18.95" height="49.68" fill="#a3a3a3" stroke="#000" stroke-width="1.25" />
<line x1="512.90" y1="792.20" x2="512.90" y2="788.10" stroke="#000" stroke-width="1.25" stroke-linecap="butt"/>
<line x1="507.90" y1="788.10" x2="517.90" y2="788.10" stroke="#000" stroke-width="1.25" stroke-linecap="butt"/>
<rect x="503.42" y="792.83" width="18.95" height="21.88" fill="#a3a3a3" stroke="#000" stroke-width="1.25" />
<line x1="338.10" y1="688.18" x2="338.10" y2="815.33" stroke="#000" stroke-width="1.25" stroke-linecap="butt"/>
<line x1="337.48" y1="814.70" x2="534.90" y2="814.70" stroke="#000" stroke-width="1.25" stroke-linecap="butt"/>
<line x1="333.40" y1="814.70" x2="338.10" y2="814.70" stroke="#000" stroke-width="1.25" stroke-linecap="butt"/>
<text x="330.60" y="817.90" font-size="9" text-anchor="end" font-weight="bold" fill="#000" >0</text>
<line x1="333.40" y1="772.74" x2="338.10" y2="772.74" stroke="#000" stroke-width="1.25" stroke-linecap="butt"/>
<text x="330.60" y="775.94" font-size="9" text-anchor="end" font-weight="bold" fill="#000" >50</text>
<line x1="333.40" y1="730.77" x2="338.10" y2="730.77" stroke="#000" stroke-width="1.25" stroke-linecap="butt"/>
<text x="330.60" y="733.97" font-size="9" text-anchor="end" font-weight="bold" fill="#000" >100</text>
<line x1="333.40" y1="688.81" x2="338.10" y2="688.81" stroke="#000" stroke-width="1.25" stroke-linecap="butt"/>
<text x="330.60" y="692.01" font-size="9" text-anchor="end" font-weight="bold" fill="#000" >150</text>
<circle cx="358.00" cy="770.50" r="2.0" fill="#000"/>
<circle cx="358.00" cy="783.20" r="2.0" fill="#000"/>
<circle cx="351.40" cy="791.50" r="2.0" fill="#000"/>
<circle cx="365.10" cy="792.30" r="2.0" fill="#000"/>
<circle cx="358.20" cy="793.60" r="2.0" fill="#000"/>
<circle cx="358.20" cy="800.00" r="2.0" fill="#000"/>
<circle cx="351.40" cy="803.20" r="2.0" fill="#000"/>
<circle cx="365.10" cy="803.20" r="2.0" fill="#000"/>
<circle cx="354.60" cy="808.00" r="2.0" fill="#000"/>
<circle cx="361.60" cy="808.00" r="2.0" fill="#000"/>
<circle cx="351.40" cy="812.40" r="2.0" fill="#000"/>
<circle cx="358.20" cy="812.40" r="2.0" fill="#000"/>
<circle cx="365.10" cy="812.40" r="2.0" fill="#000"/>
<circle cx="389.20" cy="716.60" r="2.0" fill="#000"/>
<circle cx="389.20" cy="733.60" r="2.0" fill="#000"/>
<circle cx="389.20" cy="739.50" r="2.0" fill="#000"/>
<circle cx="389.20" cy="746.20" r="2.0" fill="#000"/>
<circle cx="389.20" cy="764.20" r="2.0" fill="#000"/>
<circle cx="380.90" cy="770.80" r="2.0" fill="#000"/>
<circle cx="383.80" cy="771.20" r="2.0" fill="#000"/>
<circle cx="386.70" cy="771.20" r="2.0" fill="#000"/>
<circle cx="389.60" cy="771.20" r="2.0" fill="#000"/>
<circle cx="392.60" cy="771.20" r="2.0" fill="#000"/>
<circle cx="395.50" cy="771.00" r="2.0" fill="#000"/>
<circle cx="398.00" cy="770.60" r="2.0" fill="#000"/>
<circle cx="391.10" cy="777.80" r="2.0" fill="#000"/>
<circle cx="387.20" cy="779.60" r="2.0" fill="#000"/>
<circle cx="387.20" cy="787.30" r="2.0" fill="#000"/>
<circle cx="391.10" cy="788.80" r="2.0" fill="#000"/>
<circle cx="387.20" cy="792.00" r="2.0" fill="#000"/>
<circle cx="391.10" cy="794.90" r="2.0" fill="#000"/>
<circle cx="389.20" cy="805.40" r="2.0" fill="#000"/>
<circle cx="420.00" cy="772.80" r="2.0" fill="#000"/>
<circle cx="420.00" cy="780.40" r="2.0" fill="#000"/>
<circle cx="420.00" cy="784.90" r="2.0" fill="#000"/>
<circle cx="412.30" cy="791.60" r="2.0" fill="#000"/>
<circle cx="416.40" cy="791.00" r="2.0" fill="#000"/>
<circle cx="420.00" cy="790.60" r="2.0" fill="#000"/>
<circle cx="424.10" cy="790.60" r="2.0" fill="#000"/>
<circle cx="428.20" cy="789.60" r="2.0" fill="#000"/>
<circle cx="420.00" cy="797.70" r="2.0" fill="#000"/>
<circle cx="418.00" cy="799.80" r="2.0" fill="#000"/>
<circle cx="422.10" cy="801.20" r="2.0" fill="#000"/>
<circle cx="451.10" cy="710.50" r="2.0" fill="#000"/>
<circle cx="443.90" cy="785.90" r="2.0" fill="#000"/>
<circle cx="451.10" cy="786.90" r="2.0" fill="#000"/>
<circle cx="458.20" cy="787.50" r="2.0" fill="#000"/>
<circle cx="482.20" cy="728.20" r="2.0" fill="#000"/>
<circle cx="482.20" cy="751.10" r="2.0" fill="#000"/>
<circle cx="482.20" cy="775.30" r="2.0" fill="#000"/>
<circle cx="482.20" cy="801.40" r="2.0" fill="#000"/>
<circle cx="511.40" cy="785.10" r="2.0" fill="#000"/>
<circle cx="514.90" cy="788.10" r="2.0" fill="#000"/>
<circle cx="512.80" cy="793.20" r="2.0" fill="#000"/>
<circle cx="512.80" cy="800.40" r="2.0" fill="#000"/>
<polyline points="357.60,744.60 357.60,702.10 387.50,702.10 387.50,705.00" fill="none" stroke="#000" stroke-width="1.15" stroke-linejoin="miter"/>
<polyline points="389.30,699.00 389.30,688.40 512.80,688.40 512.80,744.60" fill="none" stroke="#000" stroke-width="1.15" stroke-linejoin="miter"/>
<polyline points="390.20,705.00 390.20,702.10 419.90,702.10 419.90,744.60" fill="none" stroke="#000" stroke-width="1.15" stroke-linejoin="miter"/>
<text x="373.70" y="699.30" font-size="7.5" text-anchor="middle" fill="#000" >**</text>
<text x="404.60" y="699.30" font-size="7.5" text-anchor="middle" fill="#000" >*</text>
<text x="449.50" y="686.00" font-size="7.5" text-anchor="middle" fill="#000" >*</text>
<text x="295.00" y="751.00" font-size="10" text-anchor="middle" font-weight="bold" transform="rotate(-90 295.00 751.00)" fill="#000" >p53 protein level</text>
<text x="309.30" y="751.00" font-size="10.3" text-anchor="middle" transform="rotate(-90 309.30 751.00)" fill="#1a1a1a" >(% of β-Actin)</text>
<text x="357.90" y="826.20" font-size="8" text-anchor="middle" fill="#1a1a1a" >DMSO</text>
<text x="388.80" y="826.20" font-size="8" text-anchor="middle" fill="#1a1a1a" >DMSO</text>
<text x="419.60" y="826.20" font-size="8" text-anchor="middle" fill="#1a1a1a" >AMX</text>
<text x="450.50" y="826.20" font-size="8" text-anchor="middle" fill="#1a1a1a" >PT</text>
<text x="482.30" y="826.20" font-size="8" text-anchor="middle" fill="#1a1a1a" >HC</text>
<text x="512.40" y="826.20" font-size="8" text-anchor="middle" fill="#1a1a1a" >NFkBin</text>
<text x="419.40" y="835.00" font-size="6.4" text-anchor="middle" fill="#1a1a1a" >25µM</text>
<text x="450.40" y="835.00" font-size="6.4" text-anchor="middle" fill="#1a1a1a" >1µM</text>
<text x="482.50" y="835.00" font-size="6.4" text-anchor="middle" fill="#1a1a1a" >20µg/ml</text>
<text x="512.20" y="835.00" font-size="6.4" text-anchor="middle" fill="#1a1a1a" >5µM</text>
<line x1="348.80" y1="843.70" x2="367.80" y2="843.70" stroke="#000" stroke-width="1.25" stroke-linecap="butt"/>
<line x1="377.00" y1="843.70" x2="522.60" y2="843.70" stroke="#000" stroke-width="1.25" stroke-linecap="butt"/>
<text x="357.30" y="856.30" font-size="8.5" text-anchor="middle" fill="#1a1a1a" >CTL</text>
<text x="448.80" y="856.30" font-size="8.8" text-anchor="middle" fill="#1a1a1a" >FA-A</text>
<rect x="48.50" y="296.00" width="144.70" height="79.00" fill="#fdfdfd" stroke="#333" stroke-width="1.0" />
<line x1="48.50" y1="322.20" x2="193.20" y2="322.20" stroke="#333" stroke-width="1.0" stroke-linecap="butt"/>
<line x1="48.50" y1="348.90" x2="193.20" y2="348.90" stroke="#333" stroke-width="1.0" stroke-linecap="butt"/>
<rect x="58.70" y="309.20" width="15.00" height="1.60" rx="0.80" fill="#000" opacity="0.05" filter="url(#bl)" transform="rotate(0 66.20 310.00)"/>
<rect x="82.05" y="308.55" width="16.50" height="2.90" rx="1.45" fill="#000" opacity="0.95" filter="url(#bl)" transform="rotate(0 90.30 310.00)"/>
<rect x="105.25" y="308.75" width="14.50" height="2.50" rx="1.25" fill="#000" opacity="0.6" filter="url(#bl)" transform="rotate(0 112.50 310.00)"/>
<rect x="128.30" y="308.65" width="16.00" height="2.70" rx="1.35" fill="#000" opacity="0.8" filter="url(#bl)" transform="rotate(0 136.30 310.00)"/>
<rect x="151.40" y="308.80" width="15.00" height="2.40" rx="1.20" fill="#000" opacity="0.32" filter="url(#bl)" transform="rotate(0 158.90 310.00)"/>
<rect x="173.55" y="308.55" width="16.50" height="2.90" rx="1.45" fill="#000" opacity="0.88" filter="url(#bl)" transform="rotate(0 181.80 310.00)"/>
<rect x="57.95" y="335.50" width="16.50" height="1.40" rx="0.70" fill="#000" opacity="0.07" filter="url(#bl)" transform="rotate(0 66.20 336.20)"/>
<rect x="82.05" y="334.80" width="16.50" height="2.80" rx="1.40" fill="#000" opacity="1" filter="url(#bl)" transform="rotate(-2 90.30 336.20)"/>
<rect x="104.25" y="334.80" width="16.50" height="2.80" rx="1.40" fill="#000" opacity="1" filter="url(#bl)" transform="rotate(-2 112.50 336.20)"/>
<rect x="128.05" y="334.80" width="16.50" height="2.80" rx="1.40" fill="#000" opacity="1" filter="url(#bl)" transform="rotate(-2 136.30 336.20)"/>
<rect x="150.65" y="334.80" width="16.50" height="2.80" rx="1.40" fill="#000" opacity="1" filter="url(#bl)" transform="rotate(-2 158.90 336.20)"/>
<rect x="173.55" y="334.80" width="16.50" height="2.80" rx="1.40" fill="#000" opacity="1" filter="url(#bl)" transform="rotate(-2 181.80 336.20)"/>
<rect x="57.70" y="361.90" width="17.00" height="2.80" rx="1.40" fill="#000" opacity="1" filter="url(#bl)" transform="rotate(0 66.20 363.30)"/>
<rect x="81.80" y="361.90" width="17.00" height="2.80" rx="1.40" fill="#000" opacity="1" filter="url(#bl)" transform="rotate(0 90.30 363.30)"/>
<rect x="104.00" y="361.90" width="17.00" height="2.80" rx="1.40" fill="#000" opacity="1" filter="url(#bl)" transform="rotate(0 112.50 363.30)"/>
<rect x="127.80" y="361.90" width="17.00" height="2.80" rx="1.40" fill="#000" opacity="1" filter="url(#bl)" transform="rotate(0 136.30 363.30)"/>
<rect x="150.40" y="361.90" width="17.00" height="2.80" rx="1.40" fill="#000" opacity="1" filter="url(#bl)" transform="rotate(0 158.90 363.30)"/>
<rect x="173.30" y="361.90" width="17.00" height="2.80" rx="1.40" fill="#000" opacity="1" filter="url(#bl)" transform="rotate(0 181.80 363.30)"/>
<text x="57.60" y="255.00" font-size="10" text-anchor="start" fill="#1a1a1a" >CTL</text>
<line x1="56.40" y1="261.80" x2="77.90" y2="261.80" stroke="#000" stroke-width="1.25" stroke-linecap="butt"/>
<text x="136.10" y="255.00" font-size="10" text-anchor="middle" fill="#1a1a1a" >FA-A</text>
<line x1="82.30" y1="261.80" x2="190.20" y2="261.80" stroke="#000" stroke-width="1.25" stroke-linecap="butt"/>
<text x="62.80" y="290.80" font-size="8.9" text-anchor="start" transform="rotate(-45 62.80 290.80)" fill="#1a1a1a" >DMSO</text>
<text x="88.60" y="290.80" font-size="8.9" text-anchor="start" transform="rotate(-45 88.60 290.80)" fill="#1a1a1a" >DMSO</text>
<text x="112.00" y="290.80" font-size="8.9" text-anchor="start" transform="rotate(-45 112.00 290.80)" fill="#1a1a1a" >AMX</text>
<text x="138.00" y="290.80" font-size="8.9" text-anchor="start" transform="rotate(-45 138.00 290.80)" fill="#1a1a1a" >PT</text>
<text x="159.80" y="290.80" font-size="8.9" text-anchor="start" transform="rotate(-45 159.80 290.80)" fill="#1a1a1a" >HC</text>
<text x="180.60" y="290.80" font-size="9.4" text-anchor="start" transform="rotate(-45 180.60 290.80)" fill="#1a1a1a" >NF-κBin</text>
<text x="19.30" y="312.40" font-size="10.5" text-anchor="middle" fill="#111" >pSTAT2</text>
<text x="19.70" y="339.90" font-size="10.8" text-anchor="middle" fill="#111" >STAT2</text>
<text x="19.00" y="366.70" font-size="10" text-anchor="middle" fill="#111" >β-Actin</text>
<text x="196.70" y="312.80" font-size="9.8" text-anchor="start" fill="#111" ><tspan font-weight="bold">-</tspan> 113kDa</text>
<text x="196.70" y="338.90" font-size="9.8" text-anchor="start" fill="#111" ><tspan font-weight="bold">-</tspan> 113kDa</text>
<text x="196.70" y="366.10" font-size="9.8" text-anchor="start" fill="#111" ><tspan font-weight="bold">-</tspan> 42kDa</text>
<rect x="66.30" y="520.30" width="146.50" height="79.50" fill="#f6f6f6" stroke="#333" stroke-width="1.0" />
<line x1="66.30" y1="547.30" x2="212.80" y2="547.30" stroke="#333" stroke-width="1.0" stroke-linecap="butt"/>
<line x1="66.30" y1="573.60" x2="212.80" y2="573.60" stroke="#333" stroke-width="1.0" stroke-linecap="butt"/>
<rect x="70.75" y="533.15" width="16.50" height="2.70" rx="1.35" fill="#000" opacity="0.95" filter="url(#bl)" transform="rotate(-1.5 79.00 534.50)"/>
<rect x="93.25" y="533.40" width="16.50" height="2.20" rx="1.10" fill="#000" opacity="0.45" filter="url(#bl)" transform="rotate(-1.5 101.50 534.50)"/>
<rect x="116.95" y="533.25" width="16.50" height="2.50" rx="1.25" fill="#000" opacity="0.75" filter="url(#bl)" transform="rotate(-1.5 125.20 534.50)"/>
<rect x="140.55" y="533.50" width="16.50" height="2.00" rx="1.00" fill="#000" opacity="0.25" filter="url(#bl)" transform="rotate(-1.5 148.80 534.50)"/>
<rect x="164.75" y="533.15" width="16.50" height="2.70" rx="1.35" fill="#000" opacity="0.85" filter="url(#bl)" transform="rotate(-1.5 173.00 534.50)"/>
<rect x="187.25" y="533.05" width="16.50" height="2.90" rx="1.45" fill="#000" opacity="0.95" filter="url(#bl)" transform="rotate(-1.5 195.50 534.50)"/>
<rect x="70.75" y="561.05" width="16.50" height="2.50" rx="1.25" fill="#000" opacity="0.68" filter="url(#bl)" transform="rotate(-1.5 79.00 562.30)"/>
<rect x="93.25" y="561.05" width="16.50" height="2.50" rx="1.25" fill="#000" opacity="0.58" filter="url(#bl)" transform="rotate(-1.5 101.50 562.30)"/>
<rect x="116.95" y="561.05" width="16.50" height="2.50" rx="1.25" fill="#000" opacity="0.56" filter="url(#bl)" transform="rotate(-1.5 125.20 562.30)"/>
<rect x="140.55" y="561.05" width="16.50" height="2.50" rx="1.25" fill="#000" opacity="0.56" filter="url(#bl)" transform="rotate(-1.5 148.80 562.30)"/>
<rect x="164.75" y="561.05" width="16.50" height="2.50" rx="1.25" fill="#000" opacity="0.66" filter="url(#bl)" transform="rotate(-1.5 173.00 562.30)"/>
<rect x="187.25" y="561.05" width="16.50" height="2.50" rx="1.25" fill="#000" opacity="0.6" filter="url(#bl)" transform="rotate(-1.5 195.50 562.30)"/>
<rect x="70.10" y="583.55" width="17.80" height="3.50" rx="1.75" fill="#000" opacity="1" filter="url(#bl)" transform="rotate(0 79.00 585.30)"/>
<rect x="92.60" y="583.55" width="17.80" height="3.50" rx="1.75" fill="#000" opacity="1" filter="url(#bl)" transform="rotate(0 101.50 585.30)"/>
<rect x="116.30" y="583.55" width="17.80" height="3.50" rx="1.75" fill="#000" opacity="1" filter="url(#bl)" transform="rotate(0 125.20 585.30)"/>
<rect x="139.90" y="583.55" width="17.80" height="3.50" rx="1.75" fill="#000" opacity="1" filter="url(#bl)" transform="rotate(0 148.80 585.30)"/>
<rect x="164.10" y="583.55" width="17.80" height="3.50" rx="1.75" fill="#000" opacity="1" filter="url(#bl)" transform="rotate(0 173.00 585.30)"/>
<rect x="186.60" y="583.55" width="17.80" height="3.50" rx="1.75" fill="#000" opacity="1" filter="url(#bl)" transform="rotate(0 195.50 585.30)"/>
<text x="140.20" y="479.60" font-size="10" text-anchor="middle" fill="#1a1a1a" >FA-A</text>
<line x1="71.50" y1="486.60" x2="206.00" y2="486.60" stroke="#000" stroke-width="1.25" stroke-linecap="butt"/>
<text x="79.00" y="515.80" font-size="8.9" text-anchor="start" transform="rotate(-45 79.00 515.80)" fill="#1a1a1a" >DMSO</text>
<text x="103.00" y="515.80" font-size="8.9" text-anchor="start" transform="rotate(-45 103.00 515.80)" fill="#1a1a1a" >AMX</text>
<text x="127.80" y="515.80" font-size="8.9" text-anchor="start" transform="rotate(-45 127.80 515.80)" fill="#1a1a1a" >PT</text>
<text x="148.80" y="515.80" font-size="8.9" text-anchor="start" transform="rotate(-45 148.80 515.80)" fill="#1a1a1a" >HC</text>
<text x="170.50" y="515.80" font-size="9.3" text-anchor="start" transform="rotate(-45 170.50 515.80)" fill="#1a1a1a" >NF-κBin</text>
<text x="196.00" y="515.80" font-size="8.9" text-anchor="start" transform="rotate(-45 196.00 515.80)" fill="#1a1a1a" >ATA</text>
<text x="37.80" y="536.50" font-size="10.5" text-anchor="middle" fill="#111" >pSTAT2</text>
<text x="38.60" y="565.00" font-size="10.2" text-anchor="middle" fill="#111" >STAT2</text>
<text x="38.00" y="590.00" font-size="10" text-anchor="middle" fill="#111" >β-Actin</text>
<text x="216.30" y="535.60" font-size="9.8" text-anchor="start" fill="#111" ><tspan font-weight="bold">-</tspan> 113kDa</text>
<text x="216.30" y="563.90" font-size="9.8" text-anchor="start" fill="#111" ><tspan font-weight="bold">-</tspan> 113kDa</text>
<text x="216.30" y="586.10" font-size="9.8" text-anchor="start" fill="#111" ><tspan font-weight="bold">-</tspan> 42kDa</text>
<rect x="70.50" y="750.50" width="154.50" height="53.30" fill="#f7f7f7" stroke="#333" stroke-width="1.0" />
<line x1="70.50" y1="777.00" x2="225.00" y2="777.00" stroke="#333" stroke-width="1.0" stroke-linecap="butt"/>
<rect x="77.50" y="764.30" width="15.00" height="1.80" rx="0.90" fill="#000" opacity="0.06" filter="url(#bl)" transform="rotate(0 85.00 765.20)"/>
<rect x="101.45" y="763.15" width="19.50" height="3.50" rx="1.75" fill="#000" opacity="0.95" filter="url(#bl)" transform="rotate(0 111.20 764.90)"/>
<rect x="125.90" y="763.70" width="15.00" height="2.80" rx="1.40" fill="#000" opacity="0.55" filter="url(#bl)" transform="rotate(-1 133.40 765.10)"/>
<rect x="147.45" y="762.75" width="18.50" height="2.90" rx="1.45" fill="#000" opacity="0.78" filter="url(#bl)" transform="rotate(-2 156.70 764.20)"/>
<rect x="174.05" y="762.25" width="16.50" height="2.70" rx="1.35" fill="#000" opacity="0.58" filter="url(#bl)" transform="rotate(-2 182.30 763.60)"/>
<rect x="200.15" y="761.50" width="19.50" height="3.00" rx="1.50" fill="#000" opacity="0.78" filter="url(#bl)" transform="rotate(-2 209.90 763.00)"/>
<rect x="79.00" y="788.70" width="18.00" height="3.80" rx="1.90" fill="#000" opacity="1" filter="url(#bl)" transform="rotate(0 88.00 790.60)"/>
<rect x="102.05" y="788.70" width="19.50" height="3.80" rx="1.90" fill="#000" opacity="1" filter="url(#bl)" transform="rotate(0 111.80 790.60)"/>
<rect x="125.90" y="788.70" width="17.20" height="3.80" rx="1.90" fill="#000" opacity="1" filter="url(#bl)" transform="rotate(0 134.50 790.60)"/>
<rect x="150.40" y="788.70" width="17.20" height="3.80" rx="1.90" fill="#000" opacity="1" filter="url(#bl)" transform="rotate(0 159.00 790.60)"/>
<rect x="173.90" y="788.70" width="19.80" height="3.80" rx="1.90" fill="#000" opacity="1" filter="url(#bl)" transform="rotate(0 183.80 790.60)"/>
<rect x="200.90" y="788.70" width="20.20" height="3.80" rx="1.90" fill="#000" opacity="1" filter="url(#bl)" transform="rotate(0 211.00 790.60)"/>
<text x="80.90" y="708.70" font-size="10" text-anchor="start" fill="#1a1a1a" >CTL</text>
<line x1="80.30" y1="714.90" x2="101.20" y2="714.90" stroke="#000" stroke-width="1.25" stroke-linecap="butt"/>
<text x="162.40" y="708.70" font-size="10" text-anchor="middle" fill="#1a1a1a" >FA-A</text>
<line x1="108.80" y1="714.90" x2="216.70" y2="714.90" stroke="#000" stroke-width="1.25" stroke-linecap="butt"/>
<text x="86.30" y="745.40" font-size="8.8" text-anchor="start" transform="rotate(-45 86.30 745.40)" fill="#1a1a1a" >DMSO</text>
<text x="116.00" y="745.40" font-size="8.8" text-anchor="start" transform="rotate(-45 116.00 745.40)" fill="#1a1a1a" >DMSO</text>
<text x="138.50" y="745.40" font-size="8.8" text-anchor="start" transform="rotate(-45 138.50 745.40)" fill="#1a1a1a" >AMX</text>
<text x="163.00" y="745.40" font-size="8.8" text-anchor="start" transform="rotate(-45 163.00 745.40)" fill="#1a1a1a" >PT</text>
<text x="186.00" y="745.40" font-size="8.8" text-anchor="start" transform="rotate(-45 186.00 745.40)" fill="#1a1a1a" >HC</text>
<text x="208.50" y="745.40" font-size="9.2" text-anchor="start" transform="rotate(-45 208.50 745.40)" fill="#1a1a1a" >NF-κBin</text>
<text x="45.60" y="769.40" font-size="10" text-anchor="middle" fill="#111" >p53</text>
<text x="46.00" y="794.20" font-size="10" text-anchor="middle" fill="#111" >β-Actin</text>
<text x="229.30" y="770.40" font-size="9.8" text-anchor="start" fill="#111" ><tspan font-weight="bold">-</tspan> 50kDa</text>
<text x="229.30" y="792.40" font-size="9.8" text-anchor="start" fill="#111" ><tspan font-weight="bold">-</tspan> 42kDa</text>
</svg>
</body></html>
